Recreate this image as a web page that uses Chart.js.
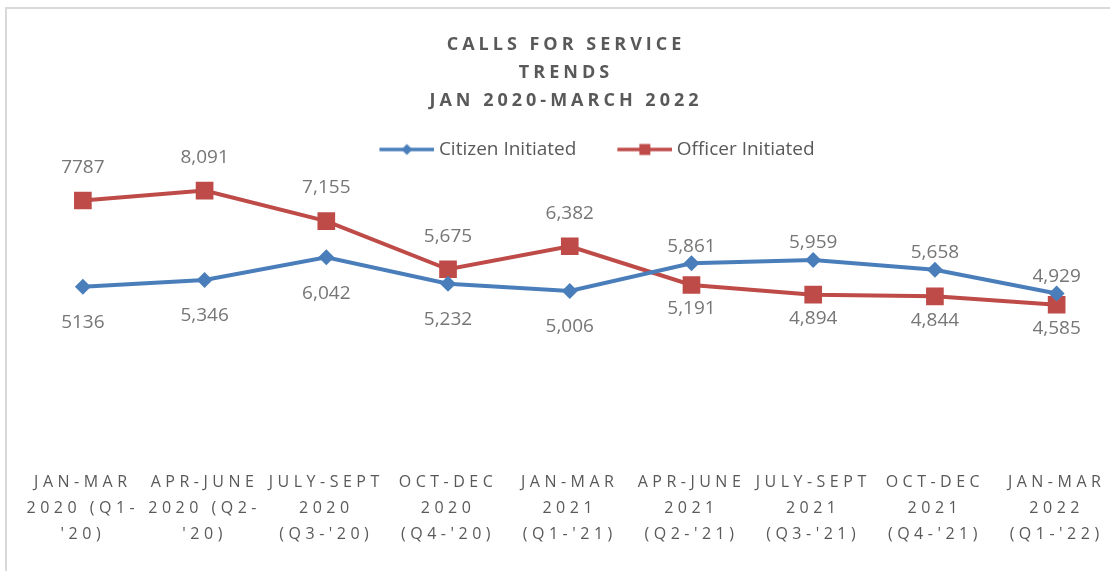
<!DOCTYPE html>
<html lang="en">
<head>
<meta charset="UTF-8">
<title>Calls for Service Trends</title>
<script src="https://cdn.jsdelivr.net/npm/chart.js@4.4.1/dist/chart.umd.min.js"></script>
<style>
  html, body { margin: 0; padding: 0; background: #fff; overflow: hidden; }
  #frame { width: 1110px; height: 571px; overflow: hidden; }
  /* the original plot runs past the right edge of the picture */
  #wrap { width: 1130px; height: 571px; position: relative; }
</style>
</head>
<body>
<div id="frame"><div id="wrap"><canvas id="callsChart"></canvas></div></div>
<script>
const quarters = [
  ['JAN-MAR', '2020 (Q1-', "'20)"],
  ['APR-JUNE', '2020 (Q2-', "'20)"],
  ['JULY-SEPT', '2020', "(Q3-'20)"],
  ['OCT-DEC', '2020', "(Q4-'20)"],
  ['JAN-MAR', '2021', "(Q1-'21)"],
  ['APR-JUNE', '2021', "(Q2-'21)"],
  ['JULY-SEPT', '2021', "(Q3-'21)"],
  ['OCT-DEC', '2021', "(Q4-'21)"],
  ['JAN-MAR', '2022', "(Q1-'22)"]
];
const citizenCalls = [5136, 5346, 6042, 5232, 5006, 5861, 5959, 5658, 4929];
const officerCalls = [7787, 8091, 7155, 5675, 6382, 5191, 4894, 4844, 4585];
const citizenText = ['5136', '5,346', '6,042', '5,232', '5,006', '5,861', '5,959', '5,658', '4,929'];
const officerText = ['7787', '8,091', '7,155', '5,675', '6,382', '5,191', '4,894', '4,844', '4,585'];
const citizenSide = ['below', 'below', 'below', 'below', 'below', 'above', 'above', 'above', 'above'];
const officerSide = ['above', 'above', 'above', 'above', 'above', 'below', 'below', 'below', 'below'];
const titleLines = ['CALLS FOR SERVICE', 'TRENDS', 'JAN 2020-MARCH 2022'];

const BLUE = '#4a7ebb';
const RED = '#be4b48';

// legend swatch: line with the series marker in the middle
// (canvas is wider on the left so the line sits closer to the text)
function swatch(color, shape) {
  const c = document.createElement('canvas');
  c.width = 66; c.height = 16;
  const g = c.getContext('2d');
  g.strokeStyle = color; g.lineWidth = 3.5;
  g.beginPath(); g.moveTo(11, 8); g.lineTo(66, 8); g.stroke();
  g.fillStyle = color;
  g.beginPath();
  if (shape === 'diamond') {
    g.moveTo(38.5, 2.5); g.lineTo(44, 8); g.lineTo(38.5, 13.5); g.lineTo(33, 8);
  } else {
    g.rect(33, 2.5, 11, 11);
  }
  g.fill();
  return c;
}
const legendIcons = [swatch(BLUE, 'diamond'), swatch(RED, 'square')];

const extras = {
  id: 'extras',
  beforeDraw(chart) {
    const ctx = chart.ctx;
    ctx.save();
    ctx.strokeStyle = '#d9d9d9';
    ctx.lineWidth = 2;
    ctx.beginPath();
    ctx.moveTo(6, 600); ctx.lineTo(6, 8); ctx.lineTo(1200, 8);
    ctx.stroke();
    ctx.restore();
  },
  afterLayout(chart) {
    // Excel places the legend a bit right of centre and close to the plot
    const lg = chart.legend;
    lg.left += 18; lg.right += 18;
    lg.top += 8; lg.bottom += 8;
  },
  afterDatasetsDraw(chart) {
    const ctx = chart.ctx;
    ctx.save();
    ctx.font = '19px "Open Sans"';
    ctx.fillStyle = '#767676';
    ctx.textAlign = 'center';
    ctx.textBaseline = 'middle';
    chart.data.datasets.forEach((ds, i) => {
      chart.getDatasetMeta(i).data.forEach((pt, j) => {
        const dy = ds.labelSide[j] === 'above' ? -ds.labelGap[0] : ds.labelGap[1];
        ctx.fillText(ds.labelText[j], pt.x, pt.y + dy);
      });
    });
    ctx.restore();
    // x tick layer (z:1) is drawn right after this, spaced like the original
    ctx.letterSpacing = '4.5px';
  },
  afterDraw(chart) {
    const ctx = chart.ctx;
    ctx.save();
    ctx.letterSpacing = '4px';
    ctx.font = 'bold 18px "Open Sans"';
    ctx.fillStyle = '#595959';
    ctx.textAlign = 'center';
    ctx.textBaseline = 'middle';
    titleLines.forEach((t, i) => ctx.fillText(t, 566, 45 + i * 28));
    ctx.restore();
    ctx.letterSpacing = '0px';
  }
};

new Chart(document.getElementById('callsChart'), {
  type: 'line',
  data: {
    labels: quarters,
    datasets: [
      {
        label: 'Citizen Initiated',
        data: citizenCalls,
        borderColor: BLUE,
        backgroundColor: BLUE,
        borderWidth: 4,
        pointStyle: 'rectRot',
        pointRadius: 8,
        pointHoverRadius: 8,
        pointBorderWidth: 0,
        labelText: citizenText,
        labelSide: citizenSide,
        labelGap: [17, 36]
      },
      {
        label: 'Officer Initiated',
        data: officerCalls,
        borderColor: RED,
        backgroundColor: RED,
        borderWidth: 4,
        pointStyle: 'rect',
        pointRadius: 12.5,
        pointHoverRadius: 12.5,
        pointBorderWidth: 0,
        labelText: officerText,
        labelSide: officerSide,
        labelGap: [33, 24]
      }
    ]
  },
  options: {
    responsive: true,
    maintainAspectRatio: false,
    animation: false,
    layout: { padding: { top: 97, left: 22, right: 0, bottom: 0 } },
    plugins: {
      title: { display: false },
      tooltip: { enabled: false },
      legend: {
        position: 'top',
        labels: {
          usePointStyle: true,
          pointStyleWidth: 56,
          padding: 35,
          color: '#595959',
          font: { family: '"Open Sans"', size: 19 },
          generateLabels(chart) {
            const items = Chart.defaults.plugins.legend.labels.generateLabels(chart);
            items.forEach((it, i) => { it.pointStyle = legendIcons[i]; });
            return items;
          }
        }
      }
    },
    scales: {
      x: {
        offset: true,
        grid: { display: false, drawTicks: false },
        border: { display: false },
        afterFit(scale) {
          scale.height = 117;
          scale.paddingLeft = 0;
          scale.paddingRight = 0;
        },
        ticks: {
          z: 1,
          autoSkip: false,
          maxRotation: 0,
          padding: 16,
          color: '#595959',
          font: { family: '"Open Sans"', size: 16, lineHeight: 1.6 }
        }
      },
      y: {
        display: false,
        min: 0,
        max: 9000
      }
    }
  },
  plugins: [extras]
});
</script>
</body>
</html>
